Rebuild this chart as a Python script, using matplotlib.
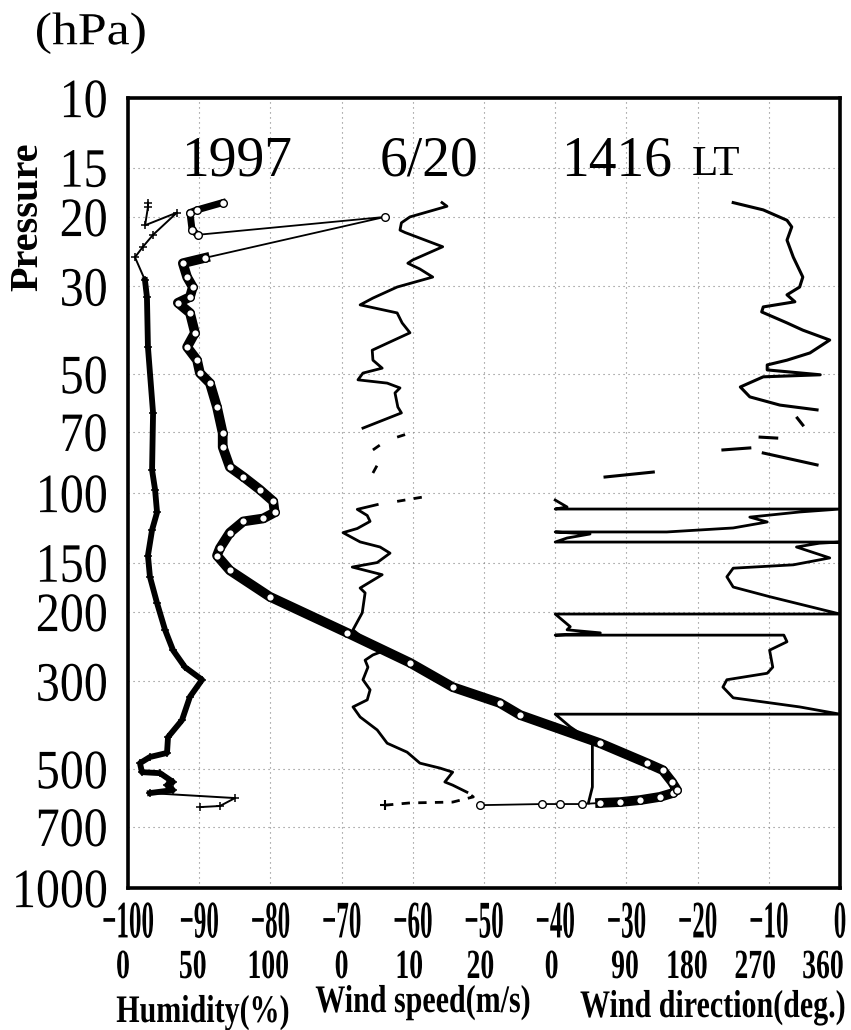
import matplotlib
matplotlib.use("Agg")
import matplotlib.pyplot as plt
import numpy as np
from matplotlib.patheffects import AbstractPathEffect
from matplotlib.transforms import Affine2D
from matplotlib.ticker import NullLocator, NullFormatter

# ---- sounding data (pressure in hPa) ----
# temperature (deg C)
temp_p = [617, 613, 613, 613, 609, 606, 599, 588, 575, 565,
          539, 503, 483, 430, 365, 340, 310, 269, 226, 183,
          157, 144, 138, 126, 118, 116, 112, 105, 98, 91,
          86, 76.5, 70.5, 60.6, 52.7, 49.7, 46.1, 42.7, 39.3, 35.0,
          33.0, 31.9, 30.1, 28.4, 26.2, 25.4, 20.0, 22.2, 21.6, 19.5,
          19.2, 18.4]
temp_t = [-50.6, -41.9, -39.3, -36.2, -33.7, -30.9, -28.1, -25.3, -23.5, -22.9,
          -23.6, -24.9, -27.1, -33.7, -44.9, -47.8, -54.4, -60.4, -69.2, -80.1,
          -85.7, -87.5, -87.1, -85.7, -83.8, -81.0, -79.4, -79.6, -81.5, -83.8,
          -85.7, -86.7, -86.7, -87.5, -88.5, -89.9, -90.3, -91.7, -90.6, -91.3,
          -93.0, -91.3, -90.9, -91.7, -92.3, -89.2, -63.9, -90.2, -91.0, -91.3,
          -90.3, -86.7]

# relative humidity (%)
hum_p = [624, 620, 592, 575, 565, 549, 539, 512, 509, 483,
         466, 455, 415, 376, 328, 297, 276, 250, 222, 190,
         163, 144, 124, 112, 98, 87.5, 62.7, 42.7, 31.9, 28.9,
         25.3, 23.8, 22.2, 19.5, 21.0, 18.9, 18.4]
hum_h = [50.6, 64.6, 75.1, 15.4, 31.6, 27.4, 31.6, 22.5, 9.8, 8.4,
         15.4, 27.4, 28.1, 37.9, 43.5, 52.0, 40.0, 31.6, 26.0, 20.4,
         15.4, 14.0, 16.9, 20.4, 19.0, 16.9, 17.6, 14.0, 13.3, 11.9,
         4.9, 10.5, 17.6, 34.4, 12.0, 14.0, 14.0]

# wind speed (m/s): solid pieces and dashed (sparse) pieces
ws_low_p = [572, 549, 539, 509, 497, 483, 453, 430, 398, 369,
            348, 334, 315, 297, 276, 265, 257, 253, 222, 201,
            179, 174, 161, 154, 150, 142, 137, 133, 126, 123,
            118, 114, 110, 107]
ws_low_s = [17.6, 15.6, 14.5, 15.6, 13.8, 11.0, 9.2, 6.4, 5.0, 2.6,
            1.6, 3.6, 4.0, 3.0, 3.7, 3.3, 4.4, 5.4, 1.6, 2.9,
            3.3, 2.6, 5.7, 1.5, 5.0, 6.8, 5.4, 2.6, 0.2, 2.2,
            4.0, 3.6, 2.2, 5.0]
ws_high_p = [68.5, 62.7, 60.6, 55.8, 54.2, 52.7, 51.7, 49.7, 48.3, 46.1,
             43.5, 41.7, 39.3, 37.1, 35.0, 33.4, 32.1, 30.1, 28.4, 27.1,
             26.2, 25.7, 23.8, 21.9, 21.6, 20.7, 20.0, 18.8, 18.4]
ws_high_s = [3.0, 8.4, 7.9, 7.5, 8.2, 6.4, 2.3, 3.0, 5.7, 4.4,
             4.3, 6.5, 9.6, 8.5, 7.8, 2.6, 4.4, 7.8, 12.8, 11.0,
             9.3, 10.0, 14.2, 8.9, 8.2, 8.4, 9.6, 14.8, 14.1]
ws_dash_p = [[617, 609, 606, 588, 572], [105, 102.4], [89, 82.5], [77.8, 74.7], [72.2, 70.5]]
ws_dash_s = [[6.1, 9.6, 15.6, 18.5, 17.6], [7.8, 11.4], [4.4, 5.4], [4.4, 5.8], [7.8, 9.6]]

# wind direction (deg)
wd_high_p = [18.4, 19.2, 20.4, 21.2, 22.9, 25.3, 28.4, 30.1, 31.5, 32.8,
             33.8, 34.8, 37.1, 38.7, 41.0, 44.2, 46.1, 47.4, 48.8, 50.2,
             50.8, 53.9, 57.1, 59.9, 61.6]
wd_high_d = [225, 263, 293, 299, 293, 301, 313, 309, 293, 303,
             263, 261, 293, 313, 347, 322, 293, 268, 268, 335,
             263, 234, 246, 284, 331]
wd_frag_p = [[64.6, 67.3], [72.2, 72.6], [76.9, 77.8], [79.2, 84.9], [88.5, 91.1]]
wd_frag_d = [[306, 313], [259, 280], [246, 212], [263, 331], [124, 63]]
wd_low_p = [104.2, 108.5, 109.8, 109.8, 111.7, 115.1, 118.4, 122.6, 125.5, 125.5,
            127, 130, 133.1, 133.1, 134, 137, 146, 152, 155, 163,
            173, 183, 202.5, 202.5, 218, 222, 226, 229, 229, 238,
            250, 276, 286, 297, 310, 330, 348, 363, 363, 391,
            427, 555, 609]
wd_low_d = [0, 15, 0, 360, 309, 246, 268, 225, 141, 0,
            44, 15, 0, 360, 334, 305, 347, 301, 225, 217,
            225, 271, 360, 0, 19, 15, 57, 0, 289, 293,
            271, 275, 268, 217, 212, 225, 309, 360, 0, 19,
            47, 47, 42]

# axis labels
p_ticks = [10, 15, 20, 30, 50, 70, 100, 150, 200, 300, 500, 700, 1000]
t_ticks = [-100, -90, -80, -70, -60, -50, -40, -30, -20, -10, 0]
sub_labels = ["0", "50", "100", "0", "10", "20", "0", "90", "180", "270", "360"]
# where the second-row labels sit (in temperature units)
sub_label_x = [-100.7, -90.9, -80.3, -70.0, -60.5, -50.5, -40.5, -30.2, -21.5, -11.9, -2.4]


class Stretch(AbstractPathEffect):
    # rescales the glyphs (the reference uses a tall condensed face)
    def __init__(self, sx=1.0, sy=1.0, yanchor="baseline", xanchor="center"):
        super().__init__()
        self.sx = sx
        self.sy = sy
        self.yanchor = yanchor
        self.xanchor = xanchor

    def draw_path(self, renderer, gc, tpath, affine, rgbFace=None):
        ext = tpath.get_extents()
        cx = ext.x1 if self.xanchor == "right" else 0.5 * (ext.x0 + ext.x1)
        if self.yanchor == "top":
            cy = ext.y1
        elif self.yanchor == "center":
            cy = 0.5 * (ext.y0 + ext.y1)
        else:
            cy = 0.0
        tr = (Affine2D().translate(-cx, -cy).scale(self.sx, self.sy)
              .translate(cx, cy) + affine)
        renderer.draw_path(gc, tpath, tr, rgbFace)


plt.rcParams["font.family"] = "Liberation Serif"

W, H = 851, 1030
fig = plt.figure(figsize=(W / 100, H / 100), dpi=100)
ax = fig.add_axes([128 / W, 1 - 888 / H, 712 / W, 790 / H])
ax.set_yscale("log")
ax.set_xlim(-100, 0)
ax.set_ylim(1000, 10)

# humidity 0-100 % -> -100..-80, speed 0-20 -> -70..-50, direction 0-360 -> -40..0
hx = -100 + np.array(hum_h) / 5.0
ax.plot(hx[3:30], hum_p[3:30], color="k", lw=4.2, zorder=3)
ax.plot(hx, hum_p, color="k", lw=1.4, marker="+", ms=6, mew=1.1, zorder=3)

tx = np.array(temp_t)
tp = np.array(temp_p)
ax.plot(tx[4:46], tp[4:46], color="k", lw=7, zorder=3)
ax.plot(tx[47:], tp[47:], color="k", lw=5, zorder=3)
ax.plot(tx, tp, color="k", lw=1.3, marker="o", ms=5.5, mfc="white", mec="k", mew=1, zorder=4)

ax.plot(-70 + np.array(ws_low_s), ws_low_p, color="k", lw=2, zorder=3)
ax.plot(-70 + np.array(ws_high_s), ws_high_p, color="k", lw=2, zorder=3)
for pp, ss in zip(ws_dash_p, ws_dash_s):
    ax.plot(-70 + np.array(ss), pp, color="k", lw=2, ls=(0, (3, 3)), zorder=3)
ax.plot(-70 + ws_dash_s[0][0], ws_dash_p[0][0], marker="+", color="k", ms=7, mew=1.5)

ax.plot(-40 + np.array(wd_high_d) / 9.0, wd_high_p, color="k", lw=2.2, zorder=3)
ax.plot(-40 + np.array(wd_low_d) / 9.0, wd_low_p, color="k", lw=2, zorder=3)
for pp, dd in zip(wd_frag_p, wd_frag_d):
    ax.plot(-40 + np.array(dd) / 9.0, pp, color="k", lw=2.2, zorder=3)

# frame, grid, ticks
for s in ax.spines.values():
    s.set_linewidth(2.6)
ax.yaxis.set_minor_locator(NullLocator())
ax.yaxis.set_minor_formatter(NullFormatter())
ax.set_yticks(p_ticks)
ax.set_yticklabels([str(v) for v in p_ticks], fontsize=27)
ax.set_xticks(t_ticks)
ax.set_xticklabels([str(v).replace("-", "\u2212") for v in t_ticks], fontsize=19,
                   fontweight="bold")
ax.tick_params(length=0)
ax.tick_params(axis="y", pad=15)
ax.tick_params(axis="x", pad=10)
ax.grid(True, color="0.5", linestyle=(0, (1, 3.5)), linewidth=0.8, zorder=1)
for lab in ax.get_xticklabels():
    lab.set_path_effects([Stretch(0.95, 2.0, "top")])
for lab in ax.get_yticklabels():
    lab.set_path_effects([Stretch(1.28, 1.48, "center", "right")])

# second row of scale labels
for xv, txt in zip(sub_label_x, sub_labels):
    t = ax.text(xv, (888 - 978) / 790, txt, transform=ax.get_xaxis_transform(),
                ha="center", va="baseline", fontsize=21, fontweight="bold")
    t.set_path_effects([Stretch(0.95, 1.42)])

# quantity names
for xc, yb, txt in [(203, 1022, "Humidity(%)"), (423, 1012, "Wind speed(m/s)"),
                    (713, 1017, "Wind direction(deg.)")]:
    t = fig.text(xc / W, 1 - yb / H, txt, ha="center", va="baseline",
                 fontsize=21.6, fontweight="bold")
    t.set_path_effects([Stretch(1.0, 1.3)])

# title inside the frame
for xc, txt, fs in [(237, "1997", 40), (429, "6/20", 40), (617, "1416", 40), (716, "LT", 31)]:
    fig.text(xc / W, 1 - 175 / H, txt, ha="center", va="baseline", fontsize=fs)

t = fig.text(91 / W, 1 - 33 / H, "(hPa)", ha="center", va="center", fontsize=33)
t.set_path_effects([Stretch(1.13, 1.0)])
fig.text(28 / W, 1 - 217 / H, "Pressure", rotation=90, ha="center", va="center",
         fontsize=29, fontweight="bold")

fig.savefig("out.png", dpi=100)
